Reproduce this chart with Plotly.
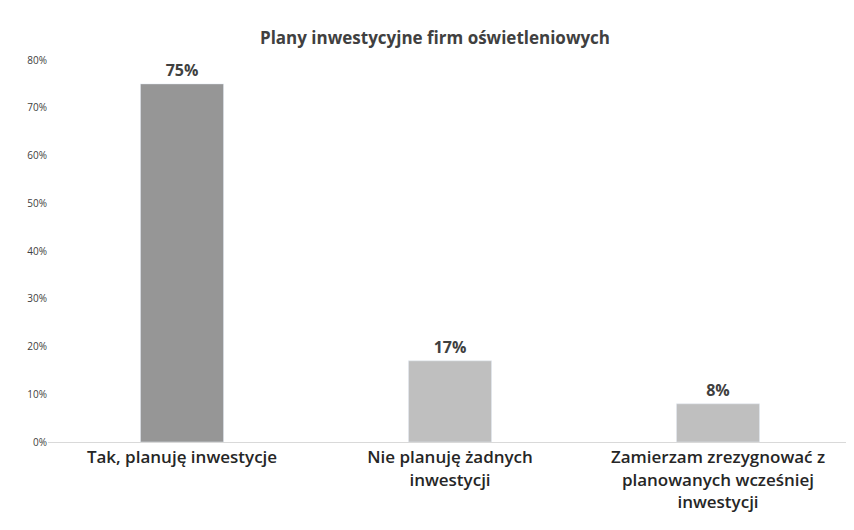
import plotly.graph_objects as go

categories = ["Tak, planuję inwestycje", "Nie planuję żadnych<br>inwestycji", "Zamierzam zrezygnować z<br>planowanych wcześniej<br>inwestycji"]
values = [0.75, 0.17, 0.08]
labels = ["75%", "17%", "8%"]
colors = ["#969696", "#bfbfbf", "#bfbfbf"]

fig = go.Figure(go.Bar(
    x=categories, y=values, marker_color=colors, width=0.31,
    text=labels, textposition="outside", cliponaxis=False,
    textfont=dict(family="Open Sans, DejaVu Sans", size=16, color="#404040", weight="bold"),
))
fig.update_layout(
    width=854, height=530, plot_bgcolor="white", paper_bgcolor="white",
    margin=dict(l=40, r=10, t=52, b=96),
    title=dict(text="<b>Plany inwestycyjne firm oświetleniowych</b>", x=0.5, y=0.955, xanchor="center",
               font=dict(family="Open Sans, DejaVu Sans", size=17, color="#404040")),
    showlegend=False,
)
fig.update_yaxes(range=[0, 0.8], dtick=0.1, tickformat=".0%", showgrid=False, zeroline=False, automargin=False,
                 tickfont=dict(family="Open Sans, DejaVu Sans", size=10, color="#404040"))
fig.update_xaxes(showline=True, linecolor="#d9d9d9", ticks="", automargin=False,
                 tickfont=dict(family="Open Sans, DejaVu Sans", size=17, color="#262626", weight=600))
fig.write_html("out.html")
